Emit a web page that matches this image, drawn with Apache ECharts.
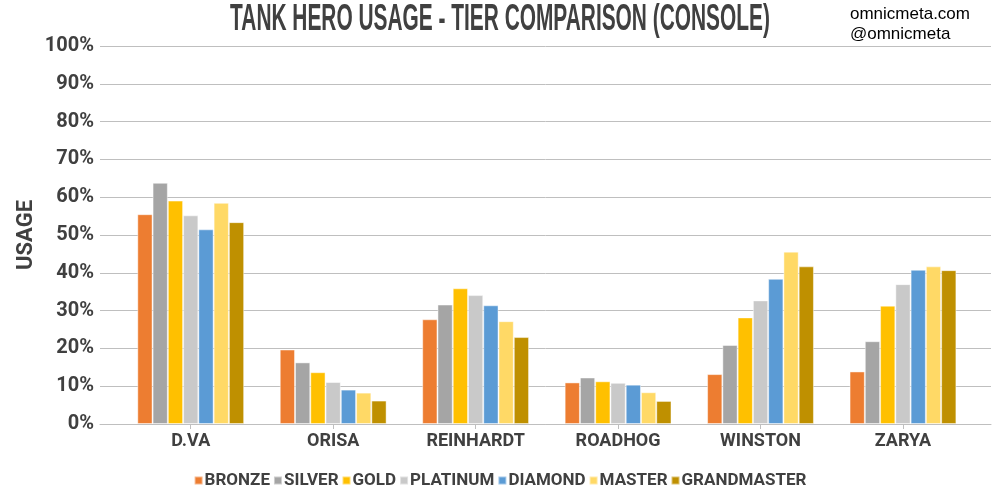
<!DOCTYPE html>
<html>
<head>
<meta charset="utf-8">
<script src="https://cdn.jsdelivr.net/npm/echarts@6/dist/echarts.min.js"></script>
<style>
html,body{margin:0;padding:0;background:#fff;}
#c{width:1000px;height:500px;}
</style>
</head>
<body>
<div id="c"></div>
<script>
var categories = ['D.VA', 'ORISA', 'REINHARDT', 'ROADHOG', 'WINSTON', 'ZARYA'];
var tiers = ['BRONZE', 'SILVER', 'GOLD', 'PLATINUM', 'DIAMOND', 'MASTER', 'GRANDMASTER'];
var bronze      = [55.5, 19.7, 27.7, 11.0, 13.2, 13.9];
var silver      = [63.8, 16.3, 31.6, 12.3, 20.9, 21.9];
var gold        = [59.1, 13.7, 35.9, 11.3, 28.2, 31.3];
var platinum    = [55.2, 11.1, 34.1, 10.9, 32.7, 37.0];
var diamond     = [51.5,  9.1, 31.4, 10.4, 38.4, 40.8];
var master      = [58.5,  8.3, 27.2,  8.4, 45.6, 41.7];
var grandmaster = [53.4,  6.2, 23.0,  6.1, 41.7, 40.7];
var yTicks = [0, 10, 20, 30, 40, 50, 60, 70, 80, 90, 100];

var colors = ['#ED7D31', '#A5A5A5', '#FFC000', '#C9C9C9', '#5B9BD5', '#FFD966', '#BF9000'];
var seriesData = [bronze, silver, gold, platinum, diamond, master, grandmaster];
var FONT = "Roboto, 'Liberation Sans', sans-serif";
var WEIGHT = 'bold';
var TXT = '#404040';

var chart = echarts.init(document.getElementById('c'), null, {renderer: 'canvas'});
var option = {
  animation: false,
  backgroundColor: '#fff',
  color: colors,
  graphic: [
    {
      type: 'text', x: 500, y: 20, scaleX: 0.58, scaleY: 1,
      style: {
        text: 'TANK HERO USAGE - TIER COMPARISON (CONSOLE)',
        fill: TXT, fontSize: 36, fontWeight: 'bold',
        fontFamily: "'Liberation Sans', sans-serif",
        textAlign: 'center', textVerticalAlign: 'middle',
        align: 'center', verticalAlign: 'middle'
      }
    },
    {
      type: 'text', left: 850, top: 4,
      style: {
        text: 'omnicmeta.com\n@omnicmeta',
        fill: '#000', fontSize: 17, lineHeight: 20,
        fontFamily: "'Liberation Sans', Arial, sans-serif"
      }
    }
  ],
  grid: [
    {left: 100, right: 9, top: 46, bottom: 76, containLabel: false, outerBoundsMode: 'none'},
    {left: 119.5, right: 25.8, top: 46, bottom: 76, containLabel: false, outerBoundsMode: 'none'}
  ],
  xAxis: [
    {
      type: 'category', gridIndex: 0, data: categories,
      axisLine: {show: true, lineStyle: {color: '#BFBFBF', width: 1}},
      axisTick: {show: false}, axisLabel: {show: false}
    },
    {
      type: 'category', gridIndex: 1, data: categories,
      axisLine: {show: false},
      axisTick: {show: true, alignWithLabel: true, length: 5, lineStyle: {color: '#BFBFBF'}},
      axisLabel: {interval: 0, color: TXT, fontSize: 18, fontWeight: WEIGHT, fontFamily: FONT, margin: 8}
    }
  ],
  yAxis: [
    {
      type: 'value', gridIndex: 0, min: 0, max: 100, interval: 10,
      name: 'USAGE', nameLocation: 'middle', nameRotate: 90, nameGap: 63, nameMoveOverlap: false,
      nameTextStyle: {color: TXT, fontSize: 22, fontWeight: WEIGHT, fontFamily: FONT},
      axisLine: {show: false}, axisTick: {show: false},
      axisLabel: {color: TXT, fontSize: 20, fontWeight: WEIGHT, fontFamily: FONT, margin: 6,
        formatter: function (v) { return v + '%'; }},
      splitLine: {lineStyle: {color: '#BFBFBF', width: 1}}
    },
    {
      type: 'value', gridIndex: 1, min: 0, max: 100, interval: 10,
      axisLine: {show: false}, axisTick: {show: false}, axisLabel: {show: false},
      splitLine: {show: false}
    }
  ],
  legend: {
    data: tiers, bottom: 6, left: 'center',
    icon: 'rect', itemWidth: 8, itemHeight: 8, itemGap: 3,
    textStyle: {color: TXT, fontSize: 17, fontWeight: WEIGHT, fontFamily: FONT, padding: [0, 0, 0, -3]}
  },
  series: tiers.map(function (t, i) {
    return {
      name: t, type: 'bar', xAxisIndex: 1, yAxisIndex: 1,
      data: seriesData[i], barGap: '0%', barCategoryGap: '25%',
      itemStyle: {color: colors[i], borderColor: 'rgba(255,255,255,0.45)', borderWidth: 1}
    };
  })
};
chart.setOption(option);
</script>
</body>
</html>
